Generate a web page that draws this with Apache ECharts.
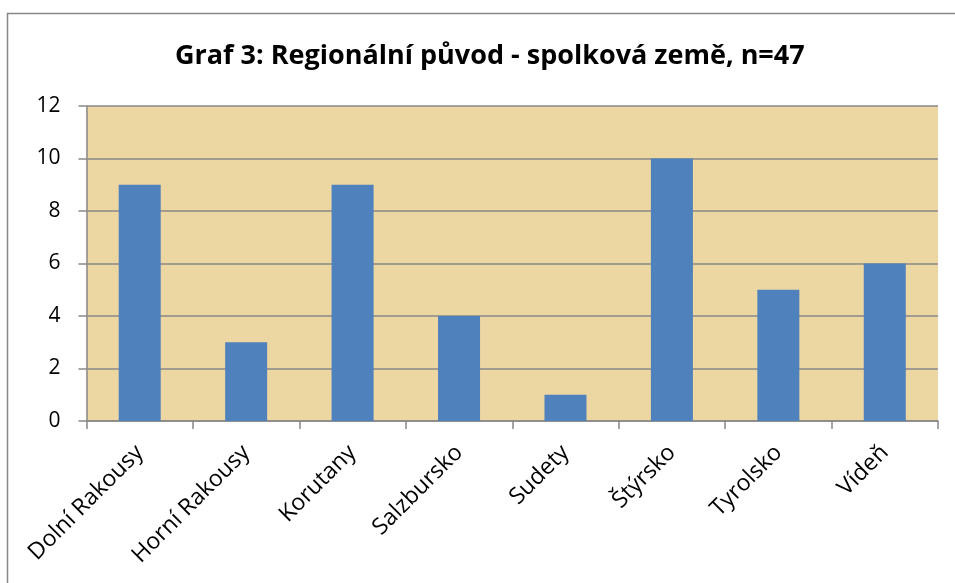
<!DOCTYPE html>
<html>
<head>
<meta charset="utf-8">
<script src="https://cdn.jsdelivr.net/npm/echarts@6/dist/echarts.min.js"></script>
<style>
  html, body { margin: 0; padding: 0; background: #fff; }
  #chart { width: 955px; height: 583px; }
</style>
</head>
<body>
<div id="chart"></div>
<script>
// data
const regions = ['Dolní Rakousy', 'Horní Rakousy', 'Korutany', 'Salzbursko', 'Sudety', 'Štýrsko', 'Tyrolsko', 'Vídeň']
const counts = [9, 3, 9, 4, 1, 10, 5, 6]
const yTicks = [0, 2, 4, 6, 8, 10, 12]

const chart = echarts.init(document.getElementById('chart'))

chart.setOption({
  animation: false,
  title: {
    text: 'Graf 3: Regionální původ - spolková země, n=47',
    left: 170,
    top: 38,
    textStyle: {
      fontFamily: 'Open Sans',
      fontSize: 27,
      fontWeight: 'bold',
      color: '#000'
    }
  },
  graphic: [
    {
      type: 'rect',
      shape: { x: 7.5, y: 13.5, width: 960, height: 600 },
      style: { fill: 'none', stroke: '#888', lineWidth: 1.5 },
      silent: true
    }
  ],
  grid: {
    left: 86.5,
    right: 17,
    top: 106,
    bottom: 162,
    show: true,
    backgroundColor: '#ecd6a2',
    borderWidth: 0
  },
  xAxis: {
    type: 'category',
    data: regions,
    axisLine: { lineStyle: { color: '#888', width: 1.5 } },
    axisTick: { show: true, length: 8, lineStyle: { color: '#888', width: 1.5 } },
    axisLabel: {
      rotate: 45,
      margin: 28,
      interval: 0,
      fontFamily: 'Open Sans',
      fontSize: 23,
      color: '#000'
    }
  },
  yAxis: {
    type: 'value',
    min: yTicks[0],
    max: yTicks[yTicks.length - 1],
    interval: 2,
    axisLine: { show: true, lineStyle: { color: '#888', width: 1.5 } },
    axisTick: { show: true, length: 8, lineStyle: { color: '#888', width: 1.5 } },
    splitLine: { lineStyle: { color: '#888', width: 1.5 } },
    axisLabel: {
      margin: 26,
      fontFamily: 'Open Sans',
      fontSize: 21,
      color: '#000'
    }
  },
  series: [
    {
      type: 'bar',
      data: counts,
      barWidth: 42,
      itemStyle: { color: '#4f81bd' }
    }
  ]
})
</script>
</body>
</html>
